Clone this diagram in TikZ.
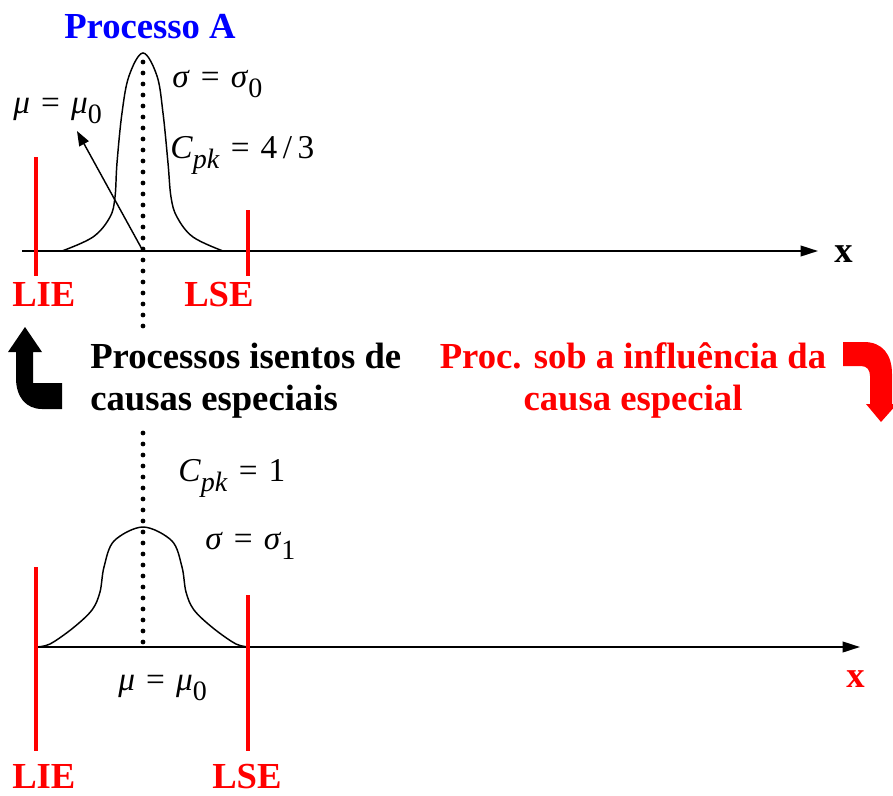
\documentclass[tikz,border=0pt]{standalone}
\usepackage{fontspec}
\setmainfont{Liberation Serif}
\usetikzlibrary{arrows.meta}
\newcommand\sbs[1]{\raisebox{-0.3em}{\fontsize{21}{23}\selectfont #1}}
\newcommand\eqs{\,\,=\,\,}
\begin{document}
\begin{tikzpicture}[x=0.75pt,y=-0.75pt,
  bigbold/.style={font=\fontsize{27.5}{30}\selectfont\bfseries, inner sep=0pt},
  redlbl/.style={bigbold, text=red},
  mathlbl/.style={font=\fontsize{25}{28}\selectfont, inner sep=0pt, anchor=base west},
  axis/.style={line width=1.3pt, -{Triangle[length=13pt,width=8pt]}},
  limit/.style={red, line width=2.5pt},
  curve/.style={line width=1.1pt},
  dotline/.style={line width=3.6pt, line cap=round, dash pattern=on 0pt off 8.25pt},
  ]
\useasboundingbox (0,0) rectangle (893,796);

% ---------- top ----------
\coordinate (ta0) at (22,251);
\coordinate (ta1) at (818,251);
\draw[axis] (ta0) -- (ta1);
\node[bigbold, anchor=base west] (tx) at (834,262) {x};

\draw[curve] plot[smooth, tension=0.6] coordinates {(62,251) (93,237) (110,217) (115,197) (117,163) (122,113) (129,76) (143,53) (157,76) (163,113) (168,163) (171,197) (177,217) (193,237) (223,251)};

\coordinate (td0) at (143,62);
\coordinate (td1) at (143,326);
\draw[dotline] (td0) -- (td1);

\coordinate (lie0a) at (36,157); \coordinate (lie0b) at (36,276);
\coordinate (lse0a) at (248,210); \coordinate (lse0b) at (248,276);
\draw[limit] (lie0a) -- (lie0b);
\draw[limit] (lse0a) -- (lse0b);
\node[redlbl, anchor=base west] (lie0) at (12,306) {LIE};
\node[redlbl, anchor=base west] (lse0) at (184,306) {LSE};

\node[bigbold, text=blue, anchor=base] (procA) at (150,38) {Processo A};

\coordinate (mu0s) at (143,251);
\coordinate (mu0e) at (77,131);
\draw[line width=1.1pt, -{Triangle[length=11pt,width=8pt]}] (mu0s) -- (mu0e);

\node[mathlbl] (mu0) at (13,113) {\textit{μ}\eqs\textit{μ}\sbs{0}};
\node[mathlbl] (sig0) at (172,87) {\textit{σ}\eqs\textit{σ}\sbs{0}};
\node[mathlbl] (cpk0) at (170,158) {\textit{C}\sbs{\textit{pk}}\eqs 4\,/\,3};

% ---------- middle ----------
\node[bigbold, anchor=base west] (iso1) at (90,368) {Processos isentos de};
\node[bigbold, anchor=base west] (iso2) at (90,410) {causas especiais};
\node[redlbl, anchor=base] (inf1) at (633,368) {Proc. sob a influência da};
\node[redlbl, anchor=base] (inf2) at (633,410) {causa especial};

\fill[black] (25,327) -- (42,352) -- (33,352) -- (33,383) -- (62,383) -- (62,409) -- (42,409)
  .. controls (26,409) and (16,397) .. (16,378) -- (16,352) -- (8,352) -- cycle;

\fill[red] (843,342) -- (864,342) .. controls (882,342) and (892,354) .. (892,374) -- (892,404)
  -- (897,404) -- (881,422) -- (866,404) -- (870,404) -- (870,376)
  .. controls (870,370) and (867,366) .. (861,366) -- (843,366) -- cycle;

% ---------- bottom ----------
\coordinate (ba0) at (36,647);
\coordinate (ba1) at (860,647);
\draw[axis] (ba0) -- (ba1);
\node[redlbl, anchor=base west] (bx) at (846,687) {x};

\draw[curve] plot[smooth, tension=0.55] coordinates {(36,647) (50,644) (73,628) (92,610) (100,592) (104,567) (114,541) (143,527) (172,541) (182,567) (186,592) (194,610) (213,628) (236,644) (250,647)};

\coordinate (bd0) at (143,433);
\coordinate (bd1) at (143,645);
\draw[dotline] (bd0) -- (bd1);

\coordinate (lie1a) at (36,567); \coordinate (lie1b) at (36,751);
\coordinate (lse1a) at (248,595); \coordinate (lse1b) at (248,751);
\draw[limit] (lie1a) -- (lie1b);
\draw[limit] (lse1a) -- (lse1b);
\node[redlbl, anchor=base west] (lie1) at (12,788) {LIE};
\node[redlbl, anchor=base west] (lse1) at (212,788) {LSE};

\node[mathlbl] (cpk1) at (178,481) {\textit{C}\sbs{\textit{pk}}\eqs 1};
\node[mathlbl] (sig1) at (205,549) {\textit{σ}\eqs\textit{σ}\sbs{1}};
\node[mathlbl] (mu1) at (118,690) {\textit{μ}\eqs\textit{μ}\sbs{0}};
\end{tikzpicture}
\end{document}
